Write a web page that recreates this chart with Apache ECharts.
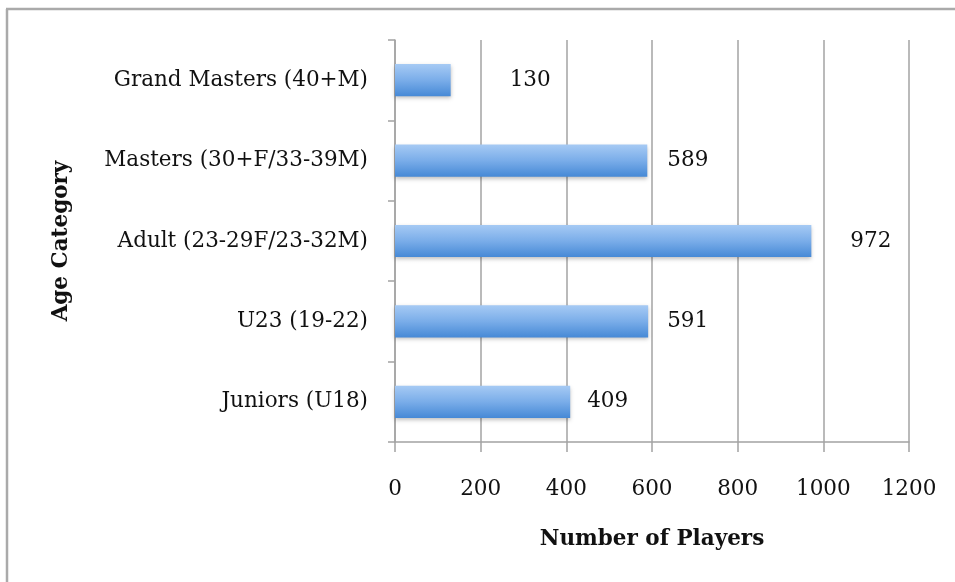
<!DOCTYPE html>
<html>
<head>
<meta charset="utf-8">
<script src="https://cdn.jsdelivr.net/npm/echarts@6/dist/echarts.min.js"></script>
<style>
  html, body { margin: 0; padding: 0; background: #fff; }
  #chart { width: 955px; height: 582px; }
</style>
</head>
<body>
<div id="chart"></div>
<script>
// Player counts by age category (bottom to top on the y axis)
const categories = [
  'Juniors (U18)',
  'U23 (19-22)',
  'Adult (23-29F/23-32M)',
  'Masters (30+F/33-39M)',
  'Grand Masters (40+M)'
];
const players = [409, 591, 972, 589, 130];
const xTicks = [0, 200, 400, 600, 800, 1000, 1200];

// Gap between each bar's end and its value label, in px
const labelGap = [17, 19, 39, 20, 59];

const FONT = 'DejaVu Serif';
const FS = 21.5;
const GRID = '#a3a3a3';

const chart = echarts.init(document.getElementById('chart'), null, { renderer: 'canvas' });

chart.setOption({
  animation: false,
  backgroundColor: '#fff',
  textStyle: { fontFamily: FONT, color: '#111' },
  grid: { left: 395, right: 46, top: 40, bottom: 140 },
  xAxis: {
    type: 'value',
    min: xTicks[0],
    max: xTicks[xTicks.length - 1],
    interval: 200,
    name: 'Number of Players',
    nameLocation: 'middle',
    nameGap: 86,
    nameTextStyle: { fontFamily: FONT, fontWeight: 'bold', fontSize: FS, color: '#111' },
    axisLine: { show: true, lineStyle: { color: GRID, width: 1.5 } },
    axisTick: { show: true, length: 10, lineStyle: { color: GRID, width: 1.5 } },
    axisLabel: { fontFamily: FONT, fontSize: FS, color: '#111', margin: 36, formatter: v => String(v) },
    splitLine: { show: true, lineStyle: { color: GRID, width: 1.5 } }
  },
  yAxis: {
    type: 'category',
    data: categories,
    name: 'Age Category',
    nameLocation: 'middle',
    nameGap: 323,
    nameRotate: 90,
    nameTextStyle: { fontFamily: FONT, fontWeight: 'bold', fontSize: FS, color: '#111' },
    axisLine: { show: true, lineStyle: { color: GRID, width: 1.5 } },
    axisTick: { show: true, length: 7, lineStyle: { color: GRID, width: 1.5 } },
    axisLabel: { fontFamily: FONT, fontSize: FS, color: '#111', margin: 27 }
  },
  series: [{
    type: 'bar',
    barCategoryGap: '60%',
    data: players.map((v, i) => ({
      value: v,
      label: { distance: labelGap[i] }
    })),
    itemStyle: {
      color: new echarts.graphic.LinearGradient(0, 0, 0, 1, [
        { offset: 0, color: '#a6caf4' },
        { offset: 0.5, color: '#7aade9' },
        { offset: 1, color: '#4689d6' }
      ]),
      shadowColor: 'rgba(0,0,0,0.25)',
      shadowBlur: 4,
      shadowOffsetY: 2
    },
    label: {
      show: true,
      position: 'right',
      fontFamily: FONT,
      fontSize: FS,
      color: '#111'
    }
  }],
  graphic: [
    // frame around the chart (top and left edges)
    { type: 'line', shape: { x1: 6, y1: 9, x2: 955, y2: 9 }, style: { stroke: '#aaa', lineWidth: 2.5 }, silent: true },
    { type: 'line', shape: { x1: 7, y1: 9, x2: 7, y2: 582 }, style: { stroke: '#aaa', lineWidth: 2.5 }, silent: true }
  ]
});
</script>
</body>
</html>
